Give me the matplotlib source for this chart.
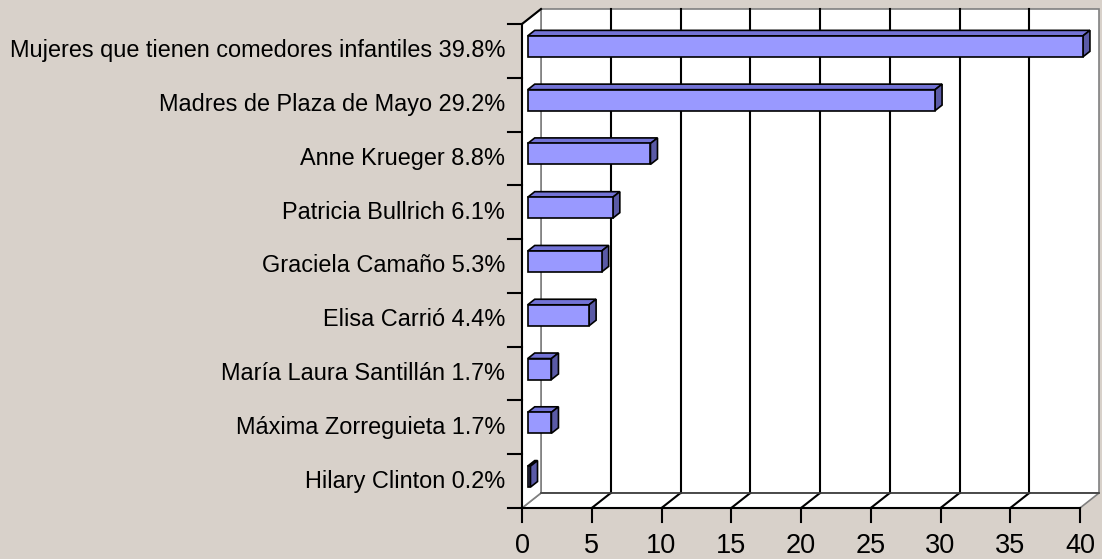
import matplotlib
matplotlib.use("Agg")
import matplotlib.pyplot as plt
from matplotlib.patches import Polygon, Rectangle

# data, top to bottom as in the chart
names = ["Mujeres que tienen comedores infantiles", "Madres de Plaza de Mayo",
         "Anne Krueger", "Patricia Bullrich", "Graciela Camaño", "Elisa Carrió",
         "María Laura Santillán", "Máxima Zorreguieta", "Hilary Clinton"]
values = [39.8, 29.2, 8.8, 6.1, 5.3, 4.4, 1.7, 1.7, 0.2]
xticks = [0, 5, 10, 15, 20, 25, 30, 35, 40]

bg = "#d8d1ca"
front_col = "#9999ff"
top_col = "#7373d6"
side_col = "#5a5aa6"
wall_edge = "#808080"

plt.rcParams["font.family"] = ["Liberation Sans", "DejaVu Sans"]

fig = plt.figure(figsize=(11.02, 5.59), dpi=100, facecolor=bg)
ax = fig.add_axes([522 / 1102, 51 / 559, 558 / 1102, 484 / 559])
ax.set_facecolor("none")
ax.set_axis_off()

n = len(values)
ax.set_xlim(0, 40)
ax.set_ylim(-0.5, n - 0.5)

# depth vector of the 3d box, in data units
DX = 19 / (558 / 40)
DY = 15 / (484 / n)
y0, y1 = -0.5, n - 0.5

def poly(pts, fc, ec, lw=1.2, z=1):
    ax.add_patch(Polygon(pts, closed=True, facecolor=fc, edgecolor=ec,
                         linewidth=lw, zorder=z, clip_on=False))

# back wall, floor, left wall
poly([(DX, y0 + DY), (40 + DX, y0 + DY), (40 + DX, y1 + DY), (DX, y1 + DY)], "white", wall_edge, z=1)
poly([(0, y0), (40, y0), (40 + DX, y0 + DY), (DX, y0 + DY)], "white", wall_edge, z=1)
poly([(0, y0), (DX, y0 + DY), (DX, y1 + DY), (0, y1)], "white", wall_edge, z=1)

# gridlines on back wall and floor
for t in xticks[1:-1]:
    ax.plot([t + DX, t + DX], [y0 + DY, y1 + DY], color="black", lw=1.5, zorder=2, clip_on=False)
    ax.plot([t, t + DX], [y0, y0 + DY], color="black", lw=1.5, zorder=2, clip_on=False)
ax.plot([DX, 40 + DX], [y0 + DY, y0 + DY], color="#404040", lw=1.2, zorder=2, clip_on=False)

# front axes
ax.plot([0, 0], [y0, y1], color="black", lw=1.5, zorder=5, clip_on=False)
ax.plot([0, 40], [y0, y0], color="black", lw=1.5, zorder=5, clip_on=False)
ax.plot([0, DX], [y1, y1 + DY], color="black", lw=1.5, zorder=5, clip_on=False)
tick_x = 14 / (558 / 40)
tick_y = 14 / (484 / n)
for k in range(n + 1):
    ax.plot([-tick_x, 0], [y0 + k, y0 + k], color="black", lw=1.5, zorder=5, clip_on=False)
for t in xticks:
    ax.plot([t, t], [y0 - tick_y, y0], color="black", lw=1.5, zorder=5, clip_on=False)
    ax.text(t, y0 - 0.7, str(t), ha="center", va="center", fontsize=19.5, clip_on=False)

# bars
f, g = 0.3, 0.67
h = 0.39
for i, (name, v) in enumerate(zip(names, values)):
    c = n - 1 - i
    lo, hi = c - h / 2, c + h / 2
    poly([(f * DX, hi + f * DY), (v + f * DX, hi + f * DY),
          (v + g * DX, hi + g * DY), (g * DX, hi + g * DY)], top_col, "black", z=6)
    poly([(v + f * DX, lo + f * DY), (v + g * DX, lo + g * DY),
          (v + g * DX, hi + g * DY), (v + f * DX, hi + f * DY)], side_col, "black", z=6)
    ax.add_patch(Rectangle((f * DX, lo + f * DY), v, h, facecolor=front_col,
                           edgecolor="black", linewidth=1.2, zorder=7, clip_on=False))
    ax.text(-1.2, c, f"{name} {v}%", ha="right", va="center", fontsize=16.9, clip_on=False)

fig.savefig("out.png", dpi=100, facecolor=bg)
